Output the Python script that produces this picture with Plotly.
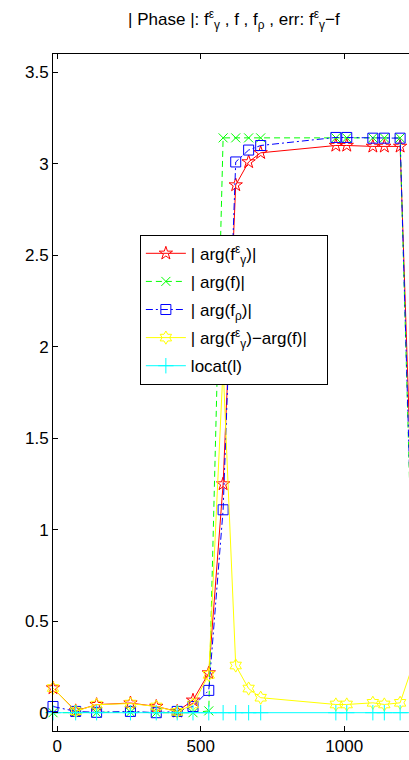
import plotly.graph_objects as go

x = [-15, 64, 137, 255, 345, 418, 473, 528, 578, 622, 667, 709, 971, 1009, 1100, 1140, 1195, 1250]

red = [0.135, 0.01, 0.044, 0.053, 0.034, 0.007, 0.068, 0.217, 1.25, 2.884, 3.01, 3.06,
       3.10, 3.10, 3.095, 3.095, 3.095, 0.48]
green = [0.0, 0.002, 0.0, 0.003, 0.0, 0.002, 0.0, 0.01, 3.1416, 3.1416, 3.1416, 3.1416,
         3.1416, 3.1416, 3.1416, 3.1416, 3.1416, 0.0]
blue = [0.034, 0.007, 0.002, 0.007, 0.0, 0.007, 0.034, 0.122, 1.109, 3.01, 3.075, 3.10,
        3.144, 3.144, 3.14, 3.14, 3.14, 0.1]
yellow = [0.135, 0.008, 0.044, 0.05, 0.034, 0.005, 0.045, 0.207, 1.89, 0.258, 0.132, 0.082,
          0.045, 0.045, 0.054, 0.045, 0.054, 0.31]
cyan = [0.0] * len(x)

names = [
    "| arg(f<sup>ε</sup><sub>γ</sub>)|",
    "| arg(f)|",
    "| arg(f<sub>ρ</sub>)|",
    "| arg(f<sup>ε</sup><sub>γ</sub>)−arg(f)|\u00a0\u00a0\u00a0",
    "locat(l)",
]
title_text = "| Phase |: f<sup>ε</sup><sub>γ</sub> , f , f<sub>ρ</sub> , err: f<sup>ε</sup><sub>γ</sub>−f"

xticks = [0, 500, 1000]
yticks = [0, 0.5, 1, 1.5, 2, 2.5, 3, 3.5]

FONT = "Liberation Sans, Arial, Helvetica, sans-serif"

fig = go.Figure()
specs = [
    (red, "#ff0000", "solid", "star-open", 10),
    (green, "#00ff00", "6px,4px", "x-thin-open", 9),
    (blue, "#0000ff", "7px,3px,2px,3px", "square-open", 10),
    (yellow, "#ffff00", "solid", "hexagram-open", 10),
    (cyan, "#00ffff", "solid", "cross-thin-open", 11),
]

for i, ((ys, col, dash, sym, sz), nm) in enumerate(zip(specs, names)):
    fig.add_trace(go.Scatter(
        x=x, y=ys, name=nm, mode="lines+markers", legendgroup=f"g{i}",
        line=dict(color=col, width=1, dash=dash),
        marker=dict(symbol=sym, size=sz, color=col, line=dict(color=col, width=1)),
        cliponaxis=False,
    ))

fig.update_layout(
    width=409, height=760,
    margin=dict(l=53, r=0, t=54, b=29),
    paper_bgcolor="white", plot_bgcolor="white",
    font=dict(family=FONT, size=17, color="black"),
    title=dict(text=title_text, x=0.508, xref="paper", xanchor="center",
               y=0.975, yref="container", yanchor="middle",
               font=dict(family=FONT, size=17, color="black")),
    showlegend=True,
    legend=dict(x=0.244, y=0.733, xanchor="left", yanchor="top",
                bgcolor="white", bordercolor="black", borderwidth=1,
                font=dict(family=FONT, size=17, color="black"),
                tracegroupgap=3, itemwidth=40),
)
fig.update_xaxes(range=[-15, 1226], tickvals=xticks, ticktext=[str(v) for v in xticks],
                 ticks="inside", ticklen=5, tickcolor="black", showline=True,
                 linecolor="black", linewidth=1, mirror="ticks", showgrid=False,
                 zeroline=False, tickfont=dict(size=17))
fig.update_yaxes(range=[-0.1, 3.6], tickvals=yticks, ticktext=[f"{v:g}" for v in yticks],
                 ticks="inside", ticklen=5, tickcolor="black", showline=True,
                 linecolor="black", linewidth=1, mirror=False, showgrid=False,
                 zeroline=False, tickfont=dict(size=17))

fig.write_html("out.html")
